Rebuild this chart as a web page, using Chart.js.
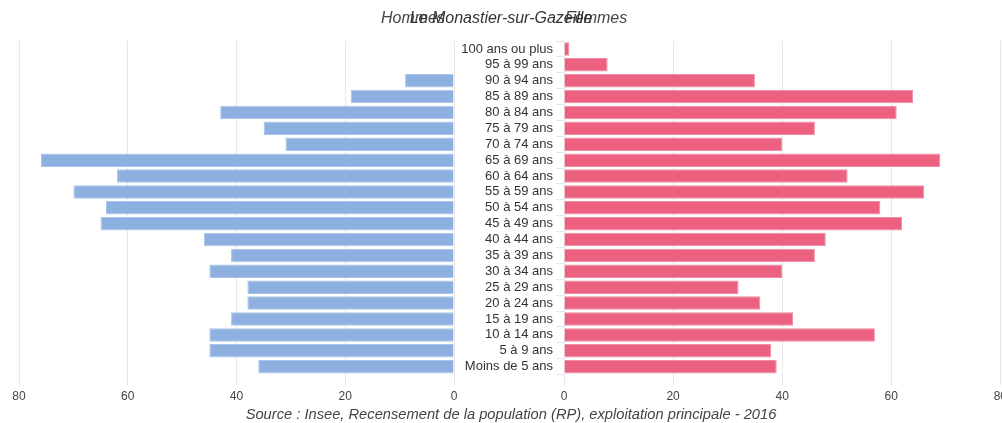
<!DOCTYPE html>
<html lang="fr">
<head>
<meta charset="utf-8">
<title>Pyramide des âges - Le Monastier-sur-Gazeille</title>
<script src="https://cdn.jsdelivr.net/npm/chart.js@4.4.1/dist/chart.umd.min.js"></script>
<style>
  body { margin: 0; background: #fff; font-family: 'Liberation Sans', Arial, sans-serif; }
  #wrap { position: relative; width: 1002px; height: 423px; overflow: hidden; }
  .box { position: absolute; top: 0; height: 423px; }
  #leftBox { left: 0; width: 462px; }
  #rightBox { left: 455px; width: 556px; }
  .txt { position: absolute; font-style: italic; color: #444; white-space: nowrap; }
  #tHommes { right: 557px; top: 9px; font-size: 16px; }
  #tFemmes { left: 565px; top: 9px; font-size: 16px; }
  #tMain { left: 0; width: 1002px; text-align: center; top: 9px; font-size: 16px; color: #333; }
  #tSource { left: 20px; width: 982px; text-align: center; top: 406px; font-size: 14.7px; }
</style>
</head>
<body>
<div id="wrap">
  <div class="box" id="leftBox"><canvas id="hommesChart"></canvas></div>
  <div class="box" id="rightBox"><canvas id="femmesChart"></canvas></div>
  <div class="txt" id="tHommes">Hommes</div>
  <div class="txt" id="tFemmes">Femmes</div>
  <div class="txt" id="tMain">Le Monastier-sur-Gazeille</div>
  <div class="txt" id="tSource">Source : Insee, Recensement de la population (RP), exploitation principale - 2016</div>
</div>
<script>
// tranches d'âge, du plus âgé au plus jeune
const ageGroups = [
  '100 ans ou plus', '95 à 99 ans', '90 à 94 ans', '85 à 89 ans', '80 à 84 ans',
  '75 à 79 ans', '70 à 74 ans', '65 à 69 ans', '60 à 64 ans', '55 à 59 ans',
  '50 à 54 ans', '45 à 49 ans', '40 à 44 ans', '35 à 39 ans', '30 à 34 ans',
  '25 à 29 ans', '20 à 24 ans', '15 à 19 ans', '10 à 14 ans', '5 à 9 ans',
  'Moins de 5 ans'
];
const hommes = [0, 0, 9, 19, 43, 35, 31, 76, 62, 70, 64, 65, 46, 41, 45, 38, 38, 41, 45, 45, 36];
const femmes = [1, 8, 35, 64, 61, 46, 40, 69, 52, 66, 58, 62, 48, 46, 40, 32, 36, 42, 57, 38, 39];
const xTicks = [0, 20, 40, 60, 80];

const fontFamily = "'Liberation Sans', Arial, sans-serif";
const gridColor = '#e6e6e6';
const tickColor = '#444';

const xScale = {
  min: xTicks[0],
  max: xTicks[xTicks.length - 1],
  ticks: { stepSize: 20, padding: 4, color: tickColor, font: { family: fontFamily, size: 12 } },
  grid: { color: gridColor, tickLength: 11 },
  border: { display: false }
};

// Hommes (gauche, axe inversé)
new Chart(document.getElementById('hommesChart'), {
  type: 'bar',
  data: {
    labels: ageGroups,
    datasets: [{
      label: 'Hommes',
      data: hommes,
      backgroundColor: '#8eb0e0',
      borderColor: '#a9c4ea',
      borderWidth: 1,
      barPercentage: 1,
      categoryPercentage: 0.85
    }]
  },
  options: {
    indexAxis: 'y',
    responsive: true,
    maintainAspectRatio: false,
    animation: false,
    layout: { padding: { top: 41, left: 19, right: 8, bottom: 15 } },
    plugins: { legend: { display: false }, tooltip: { enabled: false } },
    scales: {
      x: { ...xScale, reverse: true },
      y: { display: false }
    }
  }
});

// Femmes (droite, avec les libellés des tranches)
new Chart(document.getElementById('femmesChart'), {
  type: 'bar',
  data: {
    labels: ageGroups,
    datasets: [{
      label: 'Femmes',
      data: femmes,
      backgroundColor: '#ec6080',
      borderColor: '#f08ca3',
      borderWidth: 1,
      barPercentage: 1,
      categoryPercentage: 0.85
    }]
  },
  options: {
    indexAxis: 'y',
    responsive: true,
    maintainAspectRatio: false,
    animation: false,
    layout: { padding: { top: 41, left: 0, right: 5, bottom: 15 } },
    plugins: { legend: { display: false }, tooltip: { enabled: false } },
    scales: {
      x: xScale,
      y: {
        afterFit: function(scale) { scale.width = 109; },
        ticks: { color: '#333', font: { family: fontFamily, size: 13 }, padding: 3, autoSkip: false },
        grid: { display: true, drawOnChartArea: false, color: gridColor, tickLength: 8 },
        border: { display: false }
      }
    }
  }
});
</script>
</body>
</html>
